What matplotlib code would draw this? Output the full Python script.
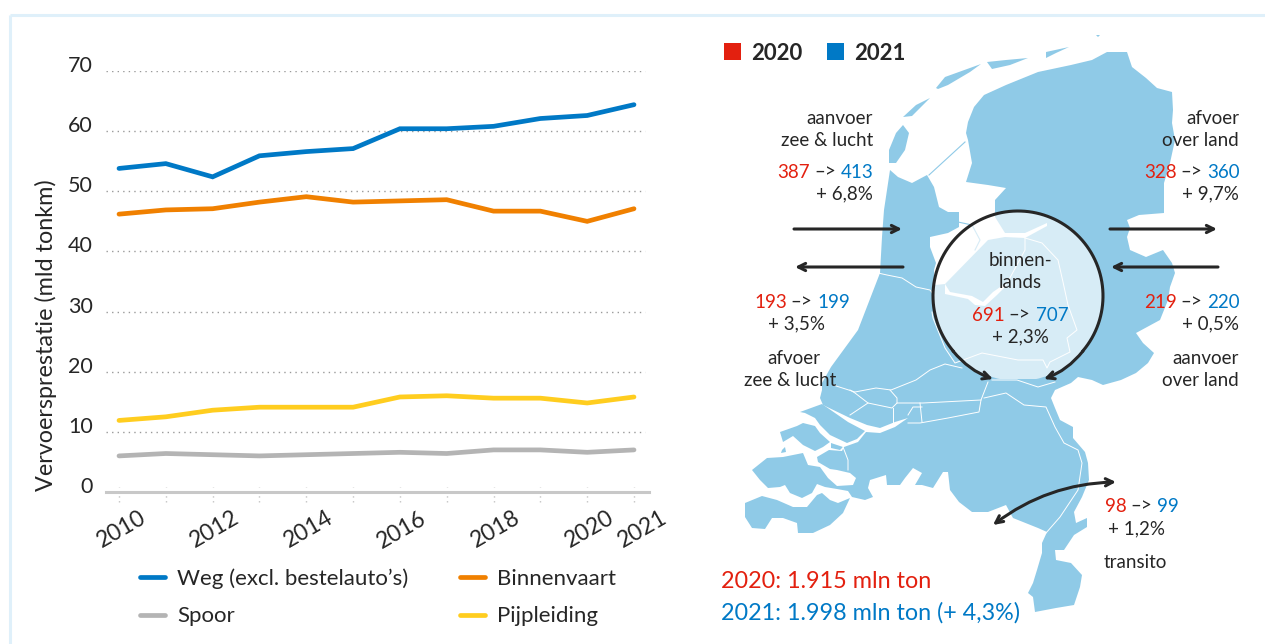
import matplotlib
matplotlib.use("Agg")
import matplotlib.pyplot as plt
import numpy as np
from matplotlib.patches import Polygon, Circle, Rectangle
from matplotlib.transforms import ScaledTranslation

plt.rcParams['font.family'] = ['Lato', 'DejaVu Sans']

BLUE = '#0079c6'
RED = '#e3200f'
ORANGE = '#f08000'
GREY = '#b4b4b4'
YELLOW = '#ffcd1f'
INK = '#262626'
LAND = '#8fcae7'
FRAME = '#dff0fa'

# chart data
years = list(range(2010, 2022))
weg = [53.8, 54.6, 52.4, 55.9, 56.6, 57.1, 60.4, 60.4, 60.8, 62.1, 62.6, 64.4]
spoor = [6.0, 6.4, 6.2, 6.0, 6.2, 6.4, 6.6, 6.4, 7.0, 7.0, 6.6, 7.0]
binnenvaart = [46.2, 46.9, 47.1, 48.2, 49.1, 48.2, 48.4, 48.6, 46.7, 46.7, 45.0, 47.1]
pijpleiding = [11.9, 12.5, 13.6, 14.1, 14.1, 14.1, 15.8, 16.0, 15.6, 15.6, 14.8, 15.8]
y_ticks = [0, 10, 20, 30, 40, 50, 60, 70]
x_labels = ['2010', '', '2012', '', '2014', '', '2016', '', '2018', '', '2020', '2021']

# map outlines, in picture pixels
mainland = [(968, 122), (974, 107), (984, 95), (1006, 85), (1038, 72), (1071, 65), (1092, 60),
            (1107, 52), (1127, 52), (1132, 67), (1146, 78), (1157, 88), (1172, 92), (1173, 110),
            (1172, 123), (1175, 140), (1170, 163), (1164, 183), (1164, 213), (1139, 215),
            (1127, 220), (1130, 228), (1127, 237), (1130, 250), (1146, 257), (1163, 250),
            (1172, 263), (1175, 273), (1170, 287), (1168, 300), (1160, 320), (1136, 333),
            (1143, 343), (1154, 353), (1148, 363), (1136, 373), (1121, 380), (1103, 385),
            (1092, 380), (1078, 377), (1071, 383), (1055, 390), (1051, 398), (1055, 408),
            (1060, 420), (1073, 427), (1073, 438), (1085, 452), (1088, 463), (1089, 480),
            (1082, 497), (1074, 512), (1076, 523), (1087, 518), (1087, 527), (1074, 535),
            (1064, 550), (1055, 550), (1056, 560), (1071, 563), (1082, 575), (1080, 587),
            (1074, 605), (1056, 608), (1035, 612), (1033, 597), (1028, 593), (1033, 583),
            (1037, 570), (1042, 553), (1042, 543), (1047, 532), (1038, 528), (1013, 518),
            (1006, 505), (988, 512), (972, 512), (959, 502), (950, 490), (948, 472), (943, 472),
            (933, 488), (922, 485), (915, 485), (922, 473), (913, 468), (905, 478), (900, 485),
            (887, 485), (886, 475), (870, 480), (868, 488), (873, 497), (865, 500), (852, 497),
            (848, 491), (837, 489), (825, 487), (817, 484), (812, 493), (802, 498), (790, 493),
            (785, 485), (780, 487), (768, 488), (760, 480), (752, 470), (767, 458), (783, 457),
            (803, 453), (808, 465), (820, 467), (828, 478), (837, 486), (853, 485), (856, 478),
            (850, 473), (837, 470), (830, 469), (818, 462), (817, 457), (829, 450), (842, 451),
            (844, 447), (858, 442), (866, 432), (880, 433), (895, 427), (908, 418), (895, 422),
            (880, 428), (867, 425), (850, 418), (823, 405), (820, 398), (822, 390), (822, 383),
            (831, 367), (858, 330), (880, 273), (882, 237), (884, 210), (890, 170), (898, 177),
            (912, 183), (927, 175), (934, 187), (939, 207), (948, 212), (959, 212), (959, 227),
            (948, 233), (930, 237), (930, 247), (936, 263), (934, 270), (935, 285), (945, 284),
            (988, 240), (1005, 237), (1025, 238), (1047, 226), (1047, 223), (1025, 233),
            (1005, 233), (995, 217), (995, 200), (1006, 188), (988, 185), (966, 182), (972, 163),
            (968, 140), (966, 133)]
islands = [
    [(903, 125), (909, 133), (905, 150), (896, 163), (889, 163), (889, 150), (896, 133)],
    [(903, 117), (916, 105), (930, 98), (923, 105), (912, 116)],
    [(936, 88), (945, 77), (981, 64), (970, 72), (948, 85), (938, 89)],
    [(987, 62), (1006, 60), (1028, 58), (1010, 65), (992, 69)],
    [(1046, 52), (1069, 47), (1056, 53), (1046, 58)],
    [(1096, 35), (1100, 35), (1098, 37)],
    [(831, 443), (843, 447), (840, 450), (831, 448)],
    [(800, 412), (822, 404), (848, 422), (865, 431), (857, 439), (847, 443), (830, 435),
     (820, 425), (815, 418), (805, 413)],
    [(780, 432), (797, 426), (803, 423), (815, 426), (820, 433), (830, 442), (823, 447),
     (815, 451), (803, 445), (793, 436), (783, 442)],
    [(745, 503), (762, 496), (777, 500), (793, 507), (807, 507), (817, 495), (822, 493),
     (830, 500), (838, 503), (850, 498), (843, 513), (830, 525), (813, 533), (798, 533),
     (797, 523), (783, 518), (772, 518), (765, 529), (752, 528), (745, 517)],
    [(782, 450), (785, 447), (786, 452), (781, 453)],
]
water = [
    [(945, 284), (945, 294), (968, 299), (975, 305), (985, 306), (997, 295), (1005, 287),
     (1003, 285), (993, 292), (983, 302), (972, 296), (950, 292)],
]
rivers = [
    [(878, 273), (887, 275), (902, 278), (916, 287), (930, 290), (934, 295)],
    [(833, 385), (855, 392), (876, 388), (891, 390), (916, 380), (930, 370), (945, 364), (962, 368)],
    [(992, 380), (1017, 380), (1038, 387), (1055, 382)],
    [(988, 382), (981, 400), (979, 412), (948, 418), (920, 423), (908, 423)],
    [(981, 400), (923, 403), (897, 403), (892, 408), (868, 403), (850, 415)],
    [(984, 398), (1006, 393), (1024, 405), (1046, 407), (1055, 427), (1064, 443), (1078, 450),
     (1082, 463), (1078, 490), (1060, 517), (1046, 533)],
    [(850, 390), (855, 393), (868, 403)],
    [(890, 390), (897, 398), (897, 403)],
    [(893, 408), (893, 422)],
    [(920, 403), (922, 422)],
    [(908, 415), (913, 407), (922, 407)],
    [(843, 447), (848, 460), (848, 470)],
    [(1025, 238), (1042, 243), (1058, 260), (1063, 282), (1068, 305), (1077, 330), (1067, 338),
     (1070, 352), (1050, 362), (1047, 368), (1043, 360), (1018, 360), (982, 353), (955, 363),
     (945, 348), (933, 318), (932, 312)],
    [(1005, 287), (1025, 250), (1025, 238)],
]
blue_rivers = [
    [(929, 175), (965, 142)],
    [(958, 222), (972, 225), (980, 240), (975, 250)],
]

# red value, blue value, pixel positions of the three pieces and row
flows = [
    ('387', '413', 777, 814, 841, 172),
    ('328', '360', 1144, 1180, 1207, 172),
    ('193', '199', 754, 790, 817, 302),
    ('219', '220', 1144, 1180, 1207, 302),
    ('691', '707', 972, 1008, 1036, 315),
    ('98', '99', 1105, 1130, 1157, 506),
]
notes = [
    ('aanvoer', 873, 118, 'right'), ('zee & lucht', 873, 140, 'right'), ('+ 6,8%', 873, 194, 'right'),
    ('afvoer', 1239, 118, 'right'), ('over land', 1239, 140, 'right'), ('+ 9,7%', 1239, 194, 'right'),
    ('+ 3,5%', 796, 324, 'center'), ('afvoer', 794, 358, 'center'), ('zee & lucht', 790, 380, 'center'),
    ('+ 0,5%', 1239, 324, 'right'), ('aanvoer', 1239, 358, 'right'), ('over land', 1239, 380, 'right'),
    ('binnen-', 1020, 260, 'center'), ('lands', 1020, 282, 'center'), ('+ 2,3%', 1020, 337, 'center'),
    ('+ 1,2%', 1137, 529, 'center'), ('transito', 1135, 562, 'center'),
]

fig = plt.figure(figsize=(12.65, 6.44), dpi=100)

# full picture overlay in pixel coordinates for the map side
bg = fig.add_axes([0, 0, 1, 1])
bg.set_xlim(0, 1265)
bg.set_ylim(644, 0)
bg.axis('off')

bg.plot([10, 10], [644, 15], color=FRAME, lw=2.2, solid_capstyle='butt')
bg.plot([10, 1265], [15, 15], color=FRAME, lw=2.2, solid_capstyle='butt')

bg.add_patch(Polygon(mainland, closed=True, fc=LAND, ec='none', zorder=1))
for pts in islands:
    bg.add_patch(Polygon(pts, closed=True, fc=LAND, ec='none', zorder=1))
for pts in water:
    bg.add_patch(Polygon(pts, closed=True, fc='white', ec='none', zorder=2))
for pts in rivers:
    xs, ys = zip(*pts)
    bg.plot(xs, ys, color='white', lw=0.7, zorder=3)
for pts in blue_rivers:
    xs, ys = zip(*pts)
    bg.plot(xs, ys, color=LAND, lw=0.8, zorder=3)

# pale disc over the middle of the country, cut off flat at the bottom
disc = Circle((1018, 296), 85, fc='white', ec='none', alpha=0.65, zorder=4)
bg.add_patch(disc)
disc.set_clip_path(Rectangle((900, 200), 240, 179, transform=bg.transData))

# circle outline, open at the bottom, runs into the two arrows
ang = np.radians(np.linspace(-40, 220, 200))
bg.plot(1018 + 85 * np.cos(ang), 296 - 85 * np.sin(ang), color=INK, lw=2.2, zorder=5)
arrow = dict(arrowstyle='->', color=INK, lw=2.2, mutation_scale=13, shrinkA=0, shrinkB=0)
bg.annotate('', xy=(993, 379), xytext=(953, 351), zorder=5,
            arrowprops=dict(arrow, connectionstyle='arc3,rad=0.14'))
bg.annotate('', xy=(1044, 379), xytext=(1083, 351), zorder=5,
            arrowprops=dict(arrow, connectionstyle='arc3,rad=-0.14'))

for start, end in [((794, 229), (902, 229)), ((903, 267), (795, 267)),
                   ((1110, 229), (1217, 229)), ((1218, 267), (1111, 267))]:
    bg.annotate('', xy=end, xytext=start, zorder=5, arrowprops=arrow)
bg.annotate('', xy=(993, 525), xytext=(1116, 482), zorder=5,
            arrowprops=dict(arrow, arrowstyle='<->', connectionstyle='arc3,rad=0.16'))

size = 13.5
for red, blue, x1, x2, x3, y in flows:
    bg.text(x1, y, red, color=RED, fontsize=size, va='center', zorder=6)
    bg.text(x2, y, '–>', color=INK, fontsize=size, va='center', zorder=6)
    bg.text(x3, y, blue, color=BLUE, fontsize=size, va='center', zorder=6)
for label, x, y, ha in notes:
    bg.text(x, y, label, color=INK, fontsize=size, ha=ha, va='center', zorder=6)

bg.add_patch(Rectangle((724, 43), 17, 17, fc=RED, ec='none'))
bg.add_patch(Rectangle((827, 43), 17, 17, fc=BLUE, ec='none'))
bg.text(751, 53, '2020', color=INK, fontsize=16, fontweight='bold', va='center')
bg.text(854, 53, '2021', color=INK, fontsize=16, fontweight='bold', va='center')

bg.text(721, 582, '2020: 1.915 mln ton', color=RED, fontsize=16.8, va='center')
bg.text(721, 613, '2021: 1.998 mln ton (+ 4,3%)', color=BLUE, fontsize=16.8, va='center')

# line chart: y 0 sits at pixel 492 and 70 at pixel 71, 2010 at x 119, 2021 at x 634
ax = fig.add_axes([106 / 1265, (644 - 492) / 644, (649 - 106) / 1265, (492 - 71) / 644])
ax.patch.set_alpha(0)
ax.set_xlim(2010 - 13 / 46.8, 2021 + 15 / 46.8)
ax.set_ylim(0, 70)

ax.hlines(y_ticks[1:], 2010 - 13 / 46.8, 2021 + 11 / 46.8, color='#9a9a9a', lw=1,
          linestyles=(0, (1, 3)), zorder=1)
ax.vlines(years, -1.7, 0.8, color='#c4c4c4', lw=1, linestyles=(0, (1, 2.5)), clip_on=False, zorder=1)

series = [('Weg (excl. bestelauto’s)', weg, BLUE), ('Spoor', spoor, GREY),
          ('Binnenvaart', binnenvaart, ORANGE), ('Pijpleiding', pijpleiding, YELLOW)]
for name, vals, col in series:
    ax.plot(years, vals, color=col, lw=3.4, label=name, solid_capstyle='round',
            solid_joinstyle='miter', zorder=3)

for side in ['top', 'right', 'left']:
    ax.spines[side].set_visible(False)
ax.spines['bottom'].set_color('#c8c8c8')
ax.spines['bottom'].set_linewidth(2.2)

ax.set_yticks(y_ticks)
ax.set_xticks(years)
ax.set_xticklabels(x_labels, rotation=30, ha='center', fontsize=16.5, color=INK)
ax.tick_params(axis='x', length=0, pad=11)
ax.tick_params(axis='y', length=0, pad=9.4, labelsize=15.5, labelcolor=INK)

# numbers sit above their grid lines, last year label is pushed right
for lab in ax.get_yticklabels():
    lab.set_transform(lab.get_transform() + ScaledTranslation(0, 0.07, fig.dpi_scale_trans))
xlabs = ax.get_xticklabels()
for lab in xlabs:
    lab.set_transform(lab.get_transform() + ScaledTranslation(0.02, 0, fig.dpi_scale_trans))
xlabs[-1].set_transform(xlabs[-1].get_transform() + ScaledTranslation(0.07, 0, fig.dpi_scale_trans))

fig.text(46 / 1265, 1 - 335 / 644, 'Vervoersprestatie (mld tonkm)', rotation=90, fontsize=16.8,
         color=INK, ha='center', va='center')

ax.legend(loc='upper left', bbox_to_anchor=(140 / 1265, 1 - 568 / 644),
          bbox_transform=fig.transFigure, ncol=2, frameon=False, fontsize=16,
          handlelength=1.13, handletextpad=0.54, columnspacing=2.34, labelspacing=0.8,
          labelcolor=INK, borderpad=0, borderaxespad=0)

fig.savefig('out.png', dpi=100)
